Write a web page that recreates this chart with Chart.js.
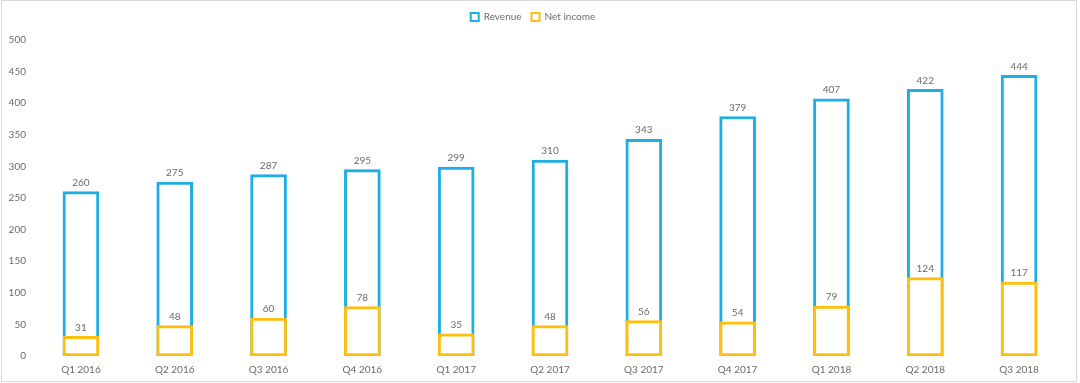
<!DOCTYPE html>
<html>
<head>
<meta charset="utf-8">
<script src="https://cdn.jsdelivr.net/npm/chart.js@4"></script>
<style>
  html, body { margin: 0; padding: 0; background: #fff; }
  #wrap { position: relative; width: 1080px; height: 383px; }
</style>
</head>
<body>
<div id="wrap"><canvas id="c" width="1080" height="383"></canvas></div>
<script>
const categories = ['Q1 2016','Q2 2016','Q3 2016','Q4 2016','Q1 2017','Q2 2017','Q3 2017','Q4 2017','Q1 2018','Q2 2018','Q3 2018'];
const revenue = [260, 275, 287, 295, 299, 310, 343, 379, 407, 422, 444];
const netIncome = [31, 48, 60, 78, 35, 48, 56, 54, 79, 124, 117];
const yTicks = { min: 0, max: 500, step: 50 };

const BLUE = '#1FAEE3';
const ORANGE = '#FFBF0F';
const TEXT = '#6b6b6b';
const FONT = 'Lato, "Open Sans", sans-serif';

const framePlugin = {
  id: 'frame',
  beforeDraw(chart) {
    const ctx = chart.ctx;
    ctx.save();
    ctx.fillStyle = '#ffffff';
    ctx.fillRect(0, 0, chart.width, chart.height);
    ctx.strokeStyle = '#d9d9d9';
    ctx.lineWidth = 1;
    ctx.strokeRect(1.5, 0.5, 1075, 381);
    ctx.restore();
  }
};

const valueLabels = {
  id: 'valueLabels',
  afterDatasetsDraw(chart) {
    const ctx = chart.ctx;
    ctx.save();
    ctx.font = '10px ' + FONT;
    ctx.fillStyle = TEXT;
    ctx.textAlign = 'center';
    ctx.textBaseline = 'bottom';
    chart.data.datasets.forEach((ds, di) => {
      const meta = chart.getDatasetMeta(di);
      meta.data.forEach((el, i) => {
        ctx.fillText(String(ds.data[i]), el.x, el.y - 4);
      });
    });
    ctx.restore();
  }
};

new Chart(document.getElementById('c'), {
  type: 'bar',
  data: {
    labels: categories,
    datasets: [
      {
        label: 'Revenue',
        data: revenue,
        backgroundColor: '#ffffff',
        borderColor: BLUE,
        borderWidth: 3,
        borderSkipped: false,
        order: 2
      },
      {
        label: 'Net income',
        data: netIncome,
        backgroundColor: '#ffffff',
        borderColor: ORANGE,
        borderWidth: 3,
        borderSkipped: false,
        order: 1
      }
    ]
  },
  options: {
    responsive: false,
    animation: false,
    maintainAspectRatio: false,
    layout: { padding: { top: 2, left: 0, right: 14, bottom: -1 } },
    datasets: {
      bar: { grouped: false, barThickness: 36 }
    },
    scales: {
      x: {
        offset: true,
        grid: { display: false, drawTicks: false },
        border: { display: false },
        ticks: { color: TEXT, font: { size: 10, family: FONT }, padding: 8, maxRotation: 0, autoSkip: false }
      },
      y: {
        min: yTicks.min,
        max: yTicks.max,
        grid: { display: false, drawTicks: false },
        border: { display: false },
        ticks: { stepSize: yTicks.step, color: TEXT, font: { size: 10, family: FONT }, padding: 8 },
        afterFit(scale) { scale.width = 34; }
      }
    },
    plugins: {
      legend: {
        position: 'top',
        weight: 1000,
        labels: {
          boxWidth: 8,
          boxHeight: 8,
          padding: 10,
          color: TEXT,
          font: { size: 10, family: FONT },
          sort: (a, b) => a.datasetIndex - b.datasetIndex,
          generateLabels(chart) {
            return chart.data.datasets.map((ds, i) => ({
              text: ds.label,
              fillStyle: '#ffffff',
              strokeStyle: ds.borderColor,
              lineWidth: 2,
              datasetIndex: i,
              hidden: false,
              fontColor: TEXT
            }));
          }
        }
      },
      title: {
        display: true,
        text: '',
        position: 'top',
        weight: 500,
        padding: 0,
        font: { size: 8, lineHeight: 1 }
      },
      tooltip: { enabled: false }
    }
  },
  plugins: [framePlugin, valueLabels]
});
</script>
</body>
</html>
